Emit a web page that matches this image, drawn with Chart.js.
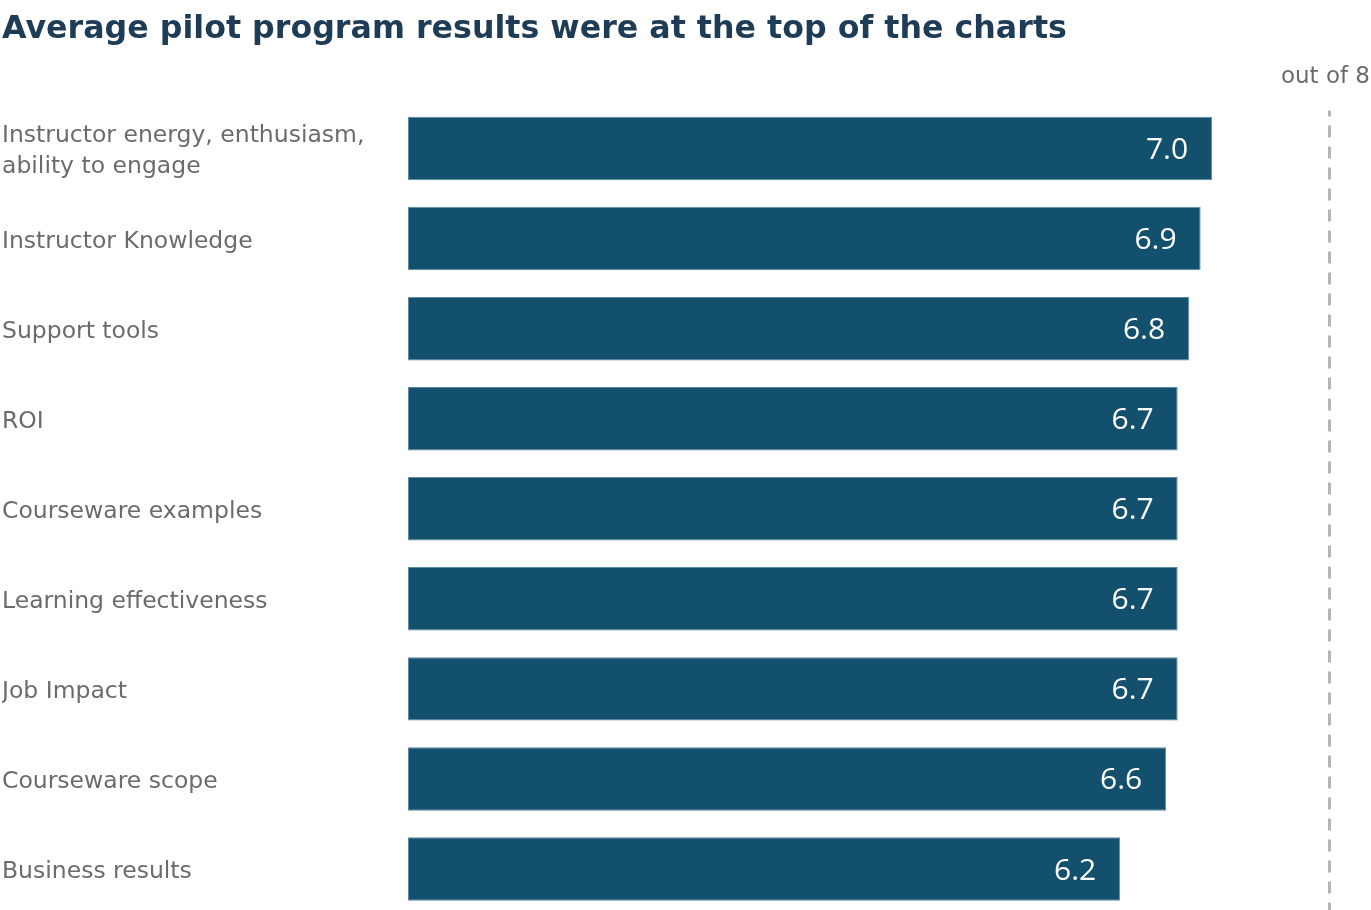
<!DOCTYPE html>
<html>
<head>
<meta charset="utf-8">
<script src="https://cdn.jsdelivr.net/npm/chart.js@4.4.1/dist/chart.umd.min.js"></script>
<style>
  html, body { margin: 0; padding: 0; background: #ffffff; overflow: hidden; }
  canvas { display: block; }
</style>
</head>
<body>
<canvas id="c" width="1371" height="914" style="width:1371px;height:914px"></canvas>
<script>
const titleText = "Average pilot program results were at the top of the charts";
const subtitleText = "out of 8";
const categories = [
  ["Instructor energy, enthusiasm,", "ability to engage"],
  "Instructor Knowledge",
  "Support tools",
  "ROI",
  "Courseware examples",
  "Learning effectiveness",
  "Job Impact",
  "Courseware scope",
  "Business results"
];
const scores = [7.0, 6.9, 6.8, 6.7, 6.7, 6.7, 6.7, 6.6, 6.2];
const scaleMax = 8;

const barColor = "#13506e";
const labelColor = "#6b6b6b";
const titleColor = "#1e3c56";

const valueLabels = {
  id: "valueLabels",
  afterDatasetsDraw(chart) {
    const ctx = chart.ctx;
    const meta = chart.getDatasetMeta(0);
    ctx.save();
    ctx.fillStyle = "#ffffff";
    ctx.font = '30px "Open Sans", "Noto Sans", sans-serif';
    ctx.textAlign = "right";
    ctx.textBaseline = "middle";
    meta.data.forEach((bar, i) => {
      ctx.fillText(scores[i].toFixed(1), bar.x - 24, bar.y + 2);
    });
    ctx.restore();
  }
};

const outOfLabel = {
  id: "outOfLabel",
  afterDraw(chart) {
    const ctx = chart.ctx;
    ctx.save();
    ctx.fillStyle = labelColor;
    ctx.font = '23px "DejaVu Sans", sans-serif';
    ctx.textAlign = "right";
    ctx.textBaseline = "middle";
    ctx.fillText(subtitleText, chart.width - 1, 77);
    ctx.restore();
  }
};

const maxLine = {
  id: "maxLine",
  afterDraw(chart) {
    const ctx = chart.ctx;
    const x = chart.scales.x.getPixelForValue(scaleMax) + 2.5;
    ctx.save();
    ctx.strokeStyle = "#b5b5b5";
    ctx.lineWidth = 3;
    ctx.setLineDash([12, 9]);
    ctx.lineDashOffset = 6;
    ctx.beginPath();
    ctx.moveTo(x, chart.chartArea.top + 7);
    ctx.lineTo(x, chart.height);
    ctx.stroke();
    ctx.restore();
  }
};

new Chart(document.getElementById("c"), {
  type: "bar",
  data: {
    labels: categories,
    datasets: [{
      data: scores,
      backgroundColor: barColor,
      borderColor: "#5f8aa3",
      borderWidth: 1,
      borderSkipped: false,
      barPercentage: 0.705,
      categoryPercentage: 1.0
    }]
  },
  options: {
    indexAxis: "y",
    responsive: false,
    maintainAspectRatio: false,
    animation: false,
    devicePixelRatio: 1,
    layout: { padding: { left: 2, right: 44, top: 0, bottom: 0 } },
    plugins: {
      legend: { display: false },
      tooltip: { enabled: false },
      title: {
        display: true,
        text: titleText,
        align: "start",
        color: titleColor,
        font: { family: '"DejaVu Sans", sans-serif', size: 31.7, weight: "bold", lineHeight: 1.2 },
        padding: { top: 11, bottom: 54.5 }
      }
    },
    scales: {
      x: {
        display: false,
        min: 0,
        max: scaleMax
      },
      y: {
        grid: { display: false, drawTicks: false },
        border: { display: false },
        ticks: {
          crossAlign: "far",
          color: labelColor,
          padding: 0,
          labelOffset: 3,
          font: { family: '"DejaVu Sans", sans-serif', size: 23.5, lineHeight: 1.33 }
        },
        afterFit(scale) {
          scale.width = 406;
          scale.paddingTop = 0;
          scale.paddingBottom = 0;
        }
      }
    }
  },
  plugins: [valueLabels, maxLine, outOfLabel]
});
</script>
</body>
</html>
